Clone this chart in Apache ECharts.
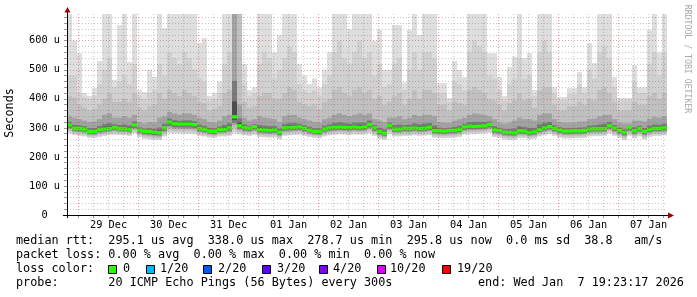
<!DOCTYPE html>
<html><head><meta charset="utf-8">
<script src="https://cdn.jsdelivr.net/npm/echarts@6/dist/echarts.min.js"></script>
<style>html,body{margin:0;padding:0;background:#fff}#c{width:697px;height:297px}</style>
</head><body><div id="c"></div><script>
// ---- axis labels / ticks ----
const dayLabels = ['29 Dec','30 Dec','31 Dec','01 Jan','02 Jan','03 Jan','04 Jan','05 Jan','06 Jan','07 Jan'];
const dayLabelHours = [12,36,60,84,108,132,156,180,204,228];
const gridHours = [0,6,12,18,24,30,36,42,48,54,60,66,72,78,84,90,96,102,108,114,120,126,132,138,144,150,156,162,168,174,180,186,192,198,204,210,216,222,228,234];
const yTicks = [0,20,40,60,80,100,120,140,160,180,200,220,240,260,280,300,320,340,360,380,400,420,440,460,480,500,520,540,560,580,600,620,640,660,680];
const yLabels = [0,100,200,300,400,500,600];
// hours relative to 29 Dec 00:00; window ends Wed Jan 7 19:23:17
const X_MIN = -4.617, X_MAX = 235.383, Y_MAX = 692;
const firstColumnStart = -4.617, columnHours = 2;
// ---- smoke (values in microseconds), one entry per 2h column ----
const hi = [692,600,557,420,410,437,530,692,692,465,654,692,
            527,692,430,423,500,475,692,643,692,692,692,692,
            692,692,592,609,410,420,460,692,692,692,692,520,
            430,440,692,692,692,560,620,692,692,692,520,480,
            450,470,440,500,560,692,692,692,640,692,692,692,
            692,600,637,500,500,654,654,457,637,692,620,692,
            692,692,454,454,403,530,500,475,692,692,692,692,
            557,557,475,410,510,545,692,540,557,430,692,692,
            692,440,406,406,437,437,492,440,592,523,692,692,
            692,475,403,403,403,516,440,440,637,692,560,692];
const lt = [480,480,420,405,400,410,450,500,540,440,460,480,
            450,520,410,400,420,430,520,480,560,540,520,560,
            540,500,470,460,395,400,420,520,560,692,692,450,
            410,420,520,560,540,470,500,540,580,560,450,430,
            420,430,410,450,480,560,600,540,520,560,600,540,
            560,480,520,440,450,520,540,430,500,560,500,560,
            560,540,420,420,390,460,450,430,560,600,580,560,
            480,470,430,395,450,470,540,470,480,410,560,600,
            560,420,395,395,415,415,450,420,500,470,560,580,
            540,440,395,395,395,460,420,420,520,560,480,560];
const md = [410,405,380,370,360,365,380,400,420,390,390,400,
            390,420,370,360,375,380,420,400,430,420,410,430,
            420,410,390,385,360,365,375,420,430,692,692,390,
            370,375,410,420,420,400,400,420,440,430,390,380,
            375,380,365,390,400,430,440,420,410,430,440,420,
            430,400,410,380,390,410,420,380,400,430,400,430,
            430,420,380,380,360,390,385,380,430,440,430,420,
            400,395,380,360,385,395,420,395,400,370,430,440,
            440,380,360,360,375,375,390,380,400,395,430,440,
            420,390,360,360,360,390,380,380,410,420,400,420];
const dk = [340,335,330,325,320,322,330,345,350,335,335,340,
            335,345,320,315,320,318,335,340,355,350,345,350,
            350,345,335,330,320,318,325,340,345,692,380,335,
            325,330,340,335,333,330,320,340,345,345,335,330,
            325,320,318,330,335,345,350,345,340,345,350,345,
            350,330,325,320,335,335,340,330,335,345,340,345,
            345,340,320,318,318,325,330,335,345,350,348,345,
            340,330,318,315,318,325,335,330,330,325,345,350,
            350,330,320,318,318,318,322,322,330,332,340,345,
            345,330,318,315,315,325,325,322,332,338,335,340];
const med = [310,298,298,296,287,287,294,296,298,301,297,297,
             294,310,292,288,287,285,283,300,320,314,313,313,
             313,311,298,295,289,288,294,295,300,338,307,300,
             299,304,294,293,292,293,285,300,301,302,303,298,
             292,288,287,296,300,302,303,302,301,303,301,303,
             312,300,287,282,308,296,296,299,298,300,298,299,
             302,291,290,289,291,292,295,303,306,305,306,307,
             312,293,291,285,284,283,290,289,284,286,295,300,
             304,298,293,289,289,290,290,291,296,297,297,298,
             307,299,291,284,301,290,297,287,295,298,298,300];
const lo = [280,275,272,270,265,265,268,272,275,276,275,274,
            272,280,268,262,260,258,258,270,282,280,280,279,
            279,278,272,270,266,265,270,270,272,280,278,274,
            272,276,268,267,266,267,260,272,274,275,276,272,
            268,265,264,270,274,276,277,276,275,277,276,277,
            280,272,262,258,278,270,270,272,272,274,272,273,
            275,266,265,264,265,266,268,276,278,278,279,280,
            282,268,265,260,258,258,264,264,260,262,270,274,
            278,272,266,263,263,264,264,265,270,271,271,272,
            280,272,265,258,272,264,270,260,268,272,272,274];
// ---- legend ----
const legendLines = [
  'median rtt:  295.1 us avg  338.0 us max  278.7 us min  295.8 us now  0.0 ms sd  38.8   am/s',
  'packet loss: 0.00 % avg  0.00 % max  0.00 % min  0.00 % now'
];
const lossLabels = ['0','1/20','2/20','3/20','4/20','10/20','19/20'];
const lossColors = ['#26ff00','#00b8ff','#0059ff','#5e00ff','#7e00ff','#dd00ff','#ff0000'];
const probeText = 'probe:       20 ICMP Echo Pings (56 Bytes) every 300s';
const endText = 'end: Wed Jan  7 19:23:17 2026';

const MONO = '"DejaVu Sans Mono", monospace';
const rows = hi.map((h, k) => {
  const t0 = firstColumnStart + k * columnHours;
  return [t0, t0 + columnHours, lo[k], med[k], dk[k], md[k], lt[k], h];
});

function smokeItem(params, api) {
  const t0 = api.value(0), t1 = api.value(1);
  const vlo = api.value(2), vmed = api.value(3), vdk = api.value(4),
        vmd = api.value(5), vlt = api.value(6), vhi = api.value(7);
  const x0 = api.coord([t0, 0])[0], x1 = api.coord([t1, 0])[0];
  const spread = vmed - vlo, up = vdk - vmed;
  const bands = [
    [vlo, vhi, '#dedede'],
    [vlo + 0.1 * spread, vlt, '#d0d0d0'],
    [vlo + 0.3 * spread, vmd, '#c0c0c0'],
    [vlo + 0.5 * spread, vdk, '#a2a2a2'],
    [vmed - 0.35 * spread, vmed + 0.35 * up, '#7a7a7a'],
    [vmed - 0.18 * spread, vmed + 0.15 * up, '#4c4c4c']
  ];
  return {
    type: 'group',
    children: bands.map(([b, t, c]) => {
      const yb = api.coord([t0, b])[1];
      const yt = api.coord([t0, Math.min(t, Y_MAX)])[1];
      return {type: 'rect', shape: {x: x0, y: yt, width: x1 - x0, height: yb - yt}, style: {fill: c}};
    })
  };
}
function medianItem(params, api) {
  const t0 = api.value(0), t1 = api.value(1), v = api.value(3);
  const p0 = api.coord([t0, v]), p1 = api.coord([t1, v]);
  return {type: 'rect', shape: {x: p0[0], y: p0[1] - 1.7, width: p1[0] - p0[0], height: 3.4},
          style: {fill: lossColors[0]}};
}

const MAJ = 'rgba(205,60,60,0.5)', MIN = 'rgba(90,90,90,0.32)';
const graphics = [];
// axis extensions and arrows
graphics.push({type: 'line', shape: {x1: 67.5, y1: 218, x2: 67.5, y2: 10}, style: {stroke: '#000', lineWidth: 1}, z: 10});
graphics.push({type: 'line', shape: {x1: 63, y1: 215.5, x2: 670, y2: 215.5}, style: {stroke: '#000', lineWidth: 1}, z: 10});
graphics.push({type: 'polygon', shape: {points: [[64.5, 12.5], [70.5, 12.5], [67.5, 7]]}, style: {fill: '#9a0000'}, z: 11});
graphics.push({type: 'polygon', shape: {points: [[668, 212.5], [668, 218.5], [674, 215.5]]}, style: {fill: '#9a0000'}, z: 11});
// titles
graphics.push({type: 'text', x: 10, y: 113, rotation: Math.PI / 2,
  style: {text: 'Seconds', font: '11.8px ' + MONO, fill: '#000', textAlign: 'center', textVerticalAlign: 'middle'}});
graphics.push({type: 'text', x: 687, y: 59, rotation: -Math.PI / 2,
  style: {text: 'RRDTOOL / TOBI OETIKER', font: '8.2px ' + MONO, fill: '#a8a8a8', textAlign: 'center', textVerticalAlign: 'middle'}});
// legend
const legendY = [241, 255, 269, 283];
legendLines.forEach((s, i) => graphics.push({type: 'text', x: 16, y: legendY[i],
  style: {text: s, font: '11.8px ' + MONO, fill: '#000', textAlign: 'left', textVerticalAlign: 'middle'}}));
graphics.push({type: 'text', x: 16, y: legendY[2],
  style: {text: 'loss color:', font: '11.8px ' + MONO, fill: '#000', textAlign: 'left', textVerticalAlign: 'middle'}});
const boxX = [108, 146, 203, 262, 319, 377, 442];
const boxTextX = [123, 160, 218, 277, 333, 390, 457];
lossLabels.forEach((s, i) => {
  graphics.push({type: 'rect', shape: {x: boxX[i] + 0.5, y: 265.5, width: 8, height: 8},
    style: {fill: lossColors[i], stroke: '#000', lineWidth: 1}});
  graphics.push({type: 'text', x: boxTextX[i], y: legendY[2],
    style: {text: s, font: '11.8px ' + MONO, fill: '#000', textAlign: 'left', textVerticalAlign: 'middle'}});
});
graphics.push({type: 'text', x: 16, y: legendY[3],
  style: {text: probeText, font: '11.8px ' + MONO, fill: '#000', textAlign: 'left', textVerticalAlign: 'middle'}});
graphics.push({type: 'text', x: 478, y: legendY[3],
  style: {text: endText, font: '11.8px ' + MONO, fill: '#000', textAlign: 'left', textVerticalAlign: 'middle'}});

const chart = echarts.init(document.getElementById('c'), null, {renderer: 'canvas'});
chart.setOption({
  backgroundColor: '#fff',
  animation: false,
  grid: {left: 67, right: 30, top: 14, bottom: 82, containLabel: false},
  xAxis: {
    type: 'value', min: X_MIN, max: X_MAX, z: 5,
    axisLine: {show: true, onZero: false, lineStyle: {color: '#000'}},
    axisTick: {show: true, customValues: gridHours, length: 3, lineStyle: {color: '#999'}},
    axisLabel: {customValues: dayLabelHours, formatter: v => dayLabels[dayLabelHours.indexOf(v)] || '',
      fontFamily: 'DejaVu Sans Mono', fontSize: 10.3, color: '#000', margin: 5},
    splitLine: {show: true, lineStyle: {color: [MAJ, MIN, MIN, MIN], type: [1, 2], width: 1}}
  },
  yAxis: {
    type: 'value', min: 0, max: Y_MAX, z: 5,
    axisLine: {show: true, onZero: false, lineStyle: {color: '#000'}},
    axisTick: {show: true, customValues: yTicks, length: 3, lineStyle: {color: '#999'}},
    axisLabel: {customValues: yLabels, formatter: v => v === 0 ? '0  ' : v + ' u',
      fontFamily: 'DejaVu Sans Mono', fontSize: 10.3, color: '#000', margin: 7},
    splitLine: {show: true, lineStyle: {color: [MAJ, MIN, MIN, MIN, MIN], type: [1, 2], width: 1}}
  },
  series: [
    {type: 'custom', name: 'smoke', data: rows, renderItem: smokeItem, clip: true, z: 1,
     encode: {x: [0, 1], y: [2, 3, 4, 5, 6, 7]}, silent: true},
    {type: 'custom', name: 'median', data: rows, renderItem: medianItem, clip: true, z: 3,
     encode: {x: [0, 1], y: 3}, silent: true}
  ],
  graphic: graphics
});
</script></body></html>
